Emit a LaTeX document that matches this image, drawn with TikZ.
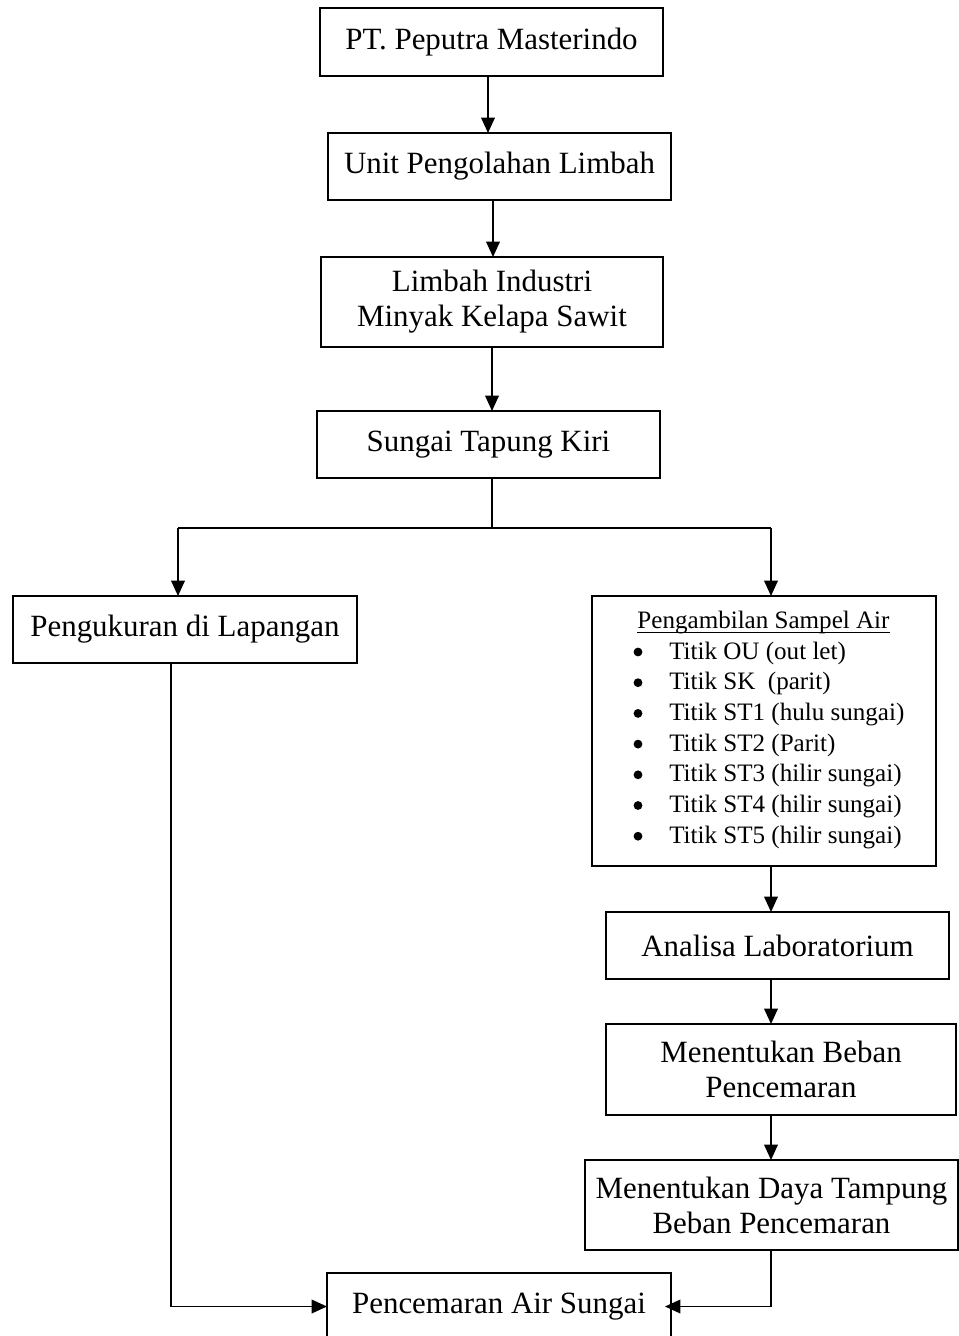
\documentclass[tikz,border=0pt]{standalone}
\usepackage{fontspec}
\setmainfont{Liberation Serif}
\usetikzlibrary{arrows.meta}
\begin{document}
\begin{tikzpicture}[x=0.75pt,y=-0.75pt,
  box/.style={draw, line width=1.1pt, inner sep=0pt, outer sep=0pt, align=center,
              font=\fontsize{23.2}{26.25}\selectfont},
  arr/.style={line width=1.2pt, -{Triangle[length=11.5pt,width=10.2pt]}},
  ln/.style={line width=1.2pt},
  small/.style={inner sep=0pt, font=\fontsize{18.8}{22}\selectfont},
  dot/.style={circle, fill, inner sep=0pt, minimum size=6.6pt}]
\clip (0,0) rectangle (959,1336);
\fill[white] (0,0) rectangle (959,1336);

% boxes
\node[box, minimum width=343*0.75pt, minimum height=68*0.75pt] (b1) at (491.5,42) {PT. Peputra Masterindo};
\node[box, minimum width=343*0.75pt, minimum height=67*0.75pt] (b2) at (499.5,166.5) {Unit Pengolahan Limbah};
\node[box, minimum width=342*0.75pt, minimum height=90*0.75pt] (b3) at (492,302) {Limbah Industri\\Minyak Kelapa Sawit};
\node[box, minimum width=343*0.75pt, minimum height=67*0.75pt] (b4) at (488.5,444.5) {Sungai Tapung Kiri};
\node[box, minimum width=344*0.75pt, minimum height=67*0.75pt] (b5) at (185,629.5) {Pengukuran di Lapangan};
\node[box, minimum width=344*0.75pt, minimum height=270*0.75pt] (b6) at (764,731) {};
\node[box, minimum width=343*0.75pt, minimum height=67*0.75pt] (b7) at (777.5,945.5) {Analisa Laboratorium};
\node[box, minimum width=350*0.75pt, minimum height=91*0.75pt] (b8) at (781,1069.5) {Menentukan Beban\\Pencemaran};
\node[box, minimum width=373*0.75pt, minimum height=90*0.75pt] (b9) at (771.5,1205) {Menentukan Daya Tampung\\Beban Pencemaran};
\node[box, minimum width=344*0.75pt, minimum height=67*0.75pt] (b10) at (499,1306.5) {Pencemaran Air Sungai};

% contents of sampling box
\node[small, anchor=base] (t0) at (763.5,628) {Pengambilan Sampel Air};
\draw[line width=0.75pt] ([yshift=-3pt]t0.base west) -- ([yshift=-3pt]t0.base east);
\foreach \t [count=\i] in {Titik OU (out let), Titik SK\ \ (parit), Titik ST1 (hulu sungai), Titik ST2 (Parit), Titik ST3 (hilir sungai), Titik ST4 (hilir sungai), Titik ST5 (hilir sungai)}{
  \node[dot] (d\i) at (638,{652+(\i-1)*30.7}) {};
  \node[small, anchor=base west] (e\i) at (669,{659+(\i-1)*30.7}) {\t};
}

% connector columns
\coordinate (a1) at (488,0);
\coordinate (a2) at (493,0);
\coordinate (a3) at (492,0);
\coordinate (j) at (492,528);
\coordinate (jl) at (178,528);
\coordinate (jr) at (771,528);
\coordinate (cl) at (171,0);
\coordinate (cr) at (771,0);

\draw[arr] (b1.south -| a1) -- (b2.north -| a1);
\draw[arr] (b2.south -| a2) -- (b3.north -| a2);
\draw[arr] (b3.south -| a3) -- (b4.north -| a3);
\draw[ln] (b4.south -| j) -- (j);
\draw[ln] (jl) -- (jr);
\draw[arr] (jl) -- (b5.north -| jl);
\draw[arr] (jr) -- (b6.north -| jr);
\draw[arr] (b6.south -| cr) -- (b7.north -| cr);
\draw[arr] (b7.south -| cr) -- (b8.north -| cr);
\draw[arr] (b8.south -| cr) -- (b9.north -| cr);
\draw[arr] (b5.south -| cl) |- (b10.west);
\draw[arr] (b9.south -| cr) |- ([xshift=-4.5pt]b10.east);
\end{tikzpicture}
\end{document}
